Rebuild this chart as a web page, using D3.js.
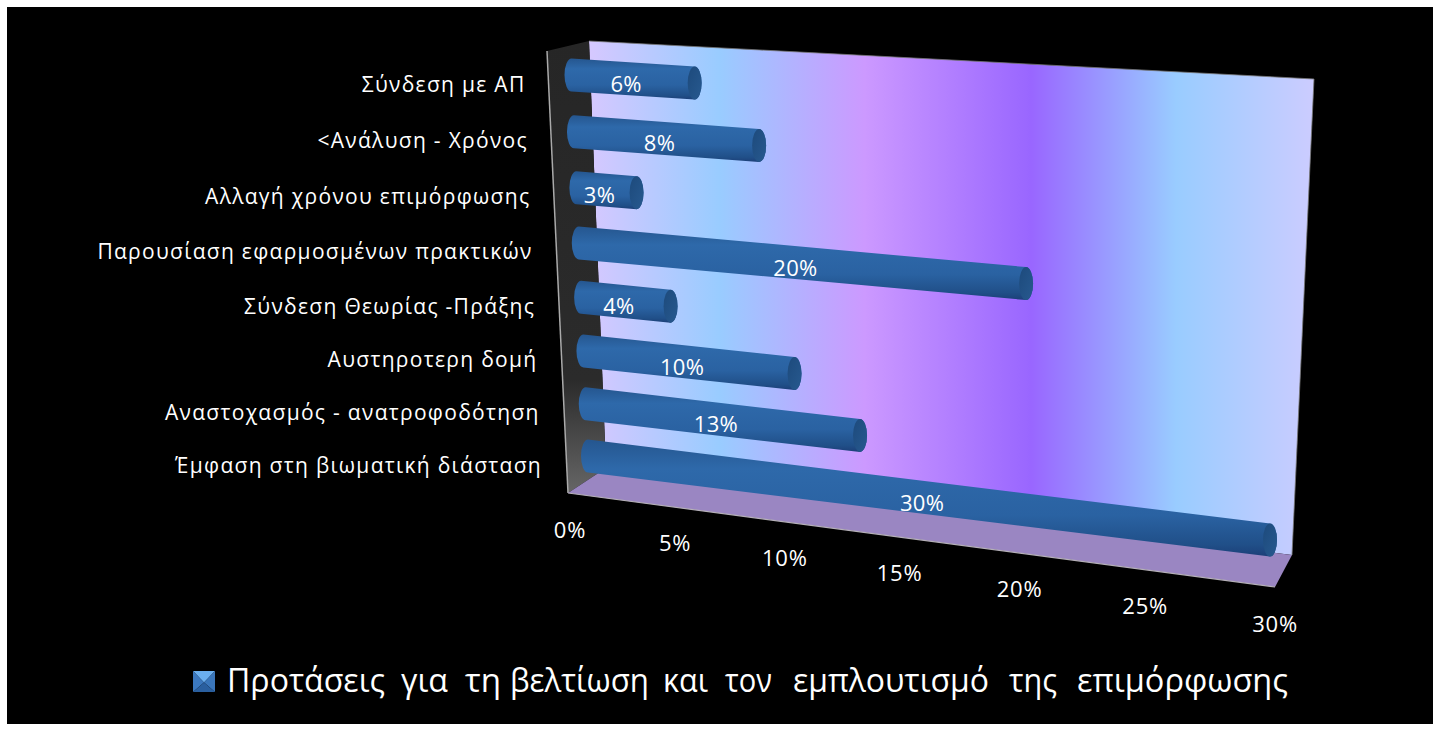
<!DOCTYPE html>
<html><head><meta charset="utf-8">
<script src="https://cdn.jsdelivr.net/npm/d3@7"></script>
<style>html,body{margin:0;padding:0;background:#fff;overflow:hidden}svg{display:block}text{font-family:"Open Sans","Noto Sans",sans-serif}</style>
</head><body><svg id="c" width="1438" height="731"></svg>
<script>
const categories = ["Σύνδεση με ΑΠ","<Ανάλυση - Χρόνος","Αλλαγή χρόνου επιμόρφωσης","Παρουσίαση εφαρμοσμένων πρακτικών","Σύνδεση Θεωρίας -Πράξης","Αυστηροτερη δομή","Αναστοχασμός - ανατροφοδότηση","Έμφαση στη βιωματική διάσταση"];
const values = [5.6,8.4,2.8,19.8,4.2,9.8,12.7,30];
const ticks = [0,5,10,15,20,25,30];
const seriesWords = ["Προτάσεις","για","τη","βελτίωση","και","τον","εμπλουτισμό","της","επιμόρφωσης"];
const wallStops = [[0,"#d6c8ff"],[0.18,"#99ccff"],[0.38,"#cc99ff"],[0.61,"#9966ff"],[0.81,"#99ccff"],[1,"#ccccff"]];
// layout only: horizontal extents of the legend words
const legendSpans = [[227,385],[401,448],[465,501],[510,649],[663,708],[725,772],[793,989],[1009,1057],[1077,1288]];

const svg = d3.select("#c");
const defs = svg.append("defs");
function homography(q){ // unit square -> quad [p00,p10,p11,p01]
  const [[x0,y0],[x1,y1],[x2,y2],[x3,y3]] = q;
  const dx1=x1-x2,dx2=x3-x2,sx=x0-x1+x2-x3,dy1=y1-y2,dy2=y3-y2,sy=y0-y1+y2-y3;
  const d=dx1*dy2-dx2*dy1, g=(sx*dy2-dx2*sy)/d, h=(dx1*sy-sx*dy1)/d;
  const a=x1-x0+g*x1,b=x3-x0+h*x3,c=x0,e=y1-y0+g*y1,f=y3-y0+h*y3,i=y0;
  return (u,v)=>{const w=g*u+h*v+1;return [(a*u+b*v+c)/w,(e*u+f*v+i)/w];};
}
const line = d3.line();
const poly = pts => line(pts)+"Z";
const x = d3.scaleLinear().domain([0,30]).range([0,1]);
const y = d3.scalePoint().domain(categories).range([0,1]);
const barPlane = homography([[571.5,75],[1290,122],[1270,540],[588,456]]);
const floorPlane = homography([[568,493],[1275,587],[1292,555],[606,468]]);

svg.append("rect").attr("x",7).attr("y",7).attr("width",1426).attr("height",717).attr("fill","#000");

// gradients
const wg = defs.append("linearGradient").attr("id","wall").attr("gradientUnits","userSpaceOnUse")
  .attr("x1",589).attr("y1",0).attr("x2",1314).attr("y2",0);
wg.selectAll("stop").data(wallStops).join("stop").attr("offset",d=>d[0]).attr("stop-color",d=>d[1]);
const lg = defs.append("linearGradient").attr("id","side").attr("x1",0).attr("y1",0).attr("x2",0).attr("y2",1);
[[0,"#262626"],[0.75,"#2b2b2b"],[1,"#666"]].forEach(s=>lg.append("stop").attr("offset",s[0]).attr("stop-color",s[1]));
const bg = defs.append("linearGradient").attr("id","body").attr("x1",0).attr("y1",0).attr("x2",0).attr("y2",1);
[[0,"#25568f"],[0.25,"#2e69aa"],[0.65,"#2a62a2"],[0.9,"#204f88"],[1,"#1c3f78"]].forEach(s=>bg.append("stop").attr("offset",s[0]).attr("stop-color",s[1]));
const cg = defs.append("linearGradient").attr("id","cap").attr("x1",0).attr("y1",0).attr("x2",1).attr("y2",1);
[[0,"#1d4a7c"],[1,"#27598f"]].forEach(s=>cg.append("stop").attr("offset",s[0]).attr("stop-color",s[1]));

// walls
svg.append("path").attr("d",poly([[589,41],[1314,79],[1292,555],[606,468]])).attr("fill","url(#wall)");
svg.append("path").attr("d",poly([[547,51],[589,41],[606,468],[568,493]])).attr("fill","url(#side)");
svg.append("path").attr("d",line([[547,51],[568,493]])).attr("stroke","#aaa").attr("stroke-width",1.5).attr("fill","none");
svg.append("path").attr("d",poly([floorPlane(0,0),floorPlane(1,0),floorPlane(1,1),floorPlane(0,1)])).attr("fill","#9a86c2");
svg.append("path").attr("d",line([floorPlane(0,0),floorPlane(1,0)])).attr("stroke","#b5b0b8").attr("stroke-width",1.2).attr("fill","none");
svg.append("path").attr("d",line([[589,41],[1314,79],[1292,555]])).attr("stroke","#777").attr("stroke-width",.8).attr("fill","none");

// cylinders
const R = 16.5, RX = 7;
const rows = categories.map((c,i)=>{
  const a = barPlane(0,y(c)), b = barPlane(x(values[i]),y(c));
  return {c,v:values[i],a,b};
});
const bars = svg.append("g").selectAll("g").data(rows).join("g");
bars.append("path").attr("fill","url(#body)").attr("d",d=>{
  const [ax,ay]=d.a,[bx,by]=d.b;
  return `M${bx},${by-R}L${ax},${ay-R}A${RX},${R} 0 0 0 ${ax},${ay+R}L${bx},${by+R}A${RX},${R} 0 0 0 ${bx},${by-R}Z`;
});
bars.append("ellipse").attr("cx",d=>d.b[0]).attr("cy",d=>d.b[1]).attr("rx",RX).attr("ry",R).attr("fill","url(#cap)");

// value labels
svg.append("g").selectAll("text").data(rows).join("text")
  .attr("x",d=>(d.a[0]+d.b[0])/2-7).attr("y",d=>(d.a[1]+d.b[1])/2+12.5)
  .attr("text-anchor","middle").attr("fill","#fff").attr("font-size",22).attr("letter-spacing",.3)
  .text(d=>d3.format(".0f")(d.v)+"%");

// category labels
svg.append("g").selectAll("text").data(rows).join("text")
  .attr("x",d=>d.a[0]-46).attr("y",d=>d.a[1]+16.5)
  .attr("text-anchor","end").attr("fill","#fff").attr("font-size",21).attr("letter-spacing",1.3)
  .text(d=>d.c);

// x axis tick labels
svg.append("g").selectAll("text").data(ticks).join("text")
  .attr("x",d=>floorPlane(x(d),0)[0]+(d<30?2:0)).attr("y",d=>floorPlane(x(d),0)[1]+44.5)
  .attr("text-anchor","middle").attr("fill","#fff").attr("font-size",22).attr("letter-spacing",.8)
  .text(d=>d+"%");

// legend
const lgd = svg.append("g");
const sx=193, sy=671, sw=22, sh=21;
const mx=sx+sw/2, my=sy+sh*0.55;
[[[[sx,sy],[sx+sw,sy],[mx,my]],"#6aaeee"],[[[sx,sy],[mx,my],[sx,sy+sh]],"#3b78bf"],[[[sx+sw,sy],[mx,my],[sx+sw,sy+sh]],"#3a76bb"],[[[sx,sy+sh],[sx+sw,sy+sh],[mx,my]],"#2a5f9f"]]
 .forEach(p=>lgd.append("path").attr("d",poly(p[0])).attr("fill",p[1]));
const legendText = lgd.append("text").attr("y",692).attr("fill","#fff").attr("font-size",33);
seriesWords.forEach((w,i)=>{
  const [a,b]=legendSpans[i];
  legendText.append("tspan").attr("x",a).attr("textLength",b-a).attr("lengthAdjust","spacingAndGlyphs").text(w);
  if(i<seriesWords.length-1) legendText.node().appendChild(document.createTextNode(" "));
});
</script></body></html>
